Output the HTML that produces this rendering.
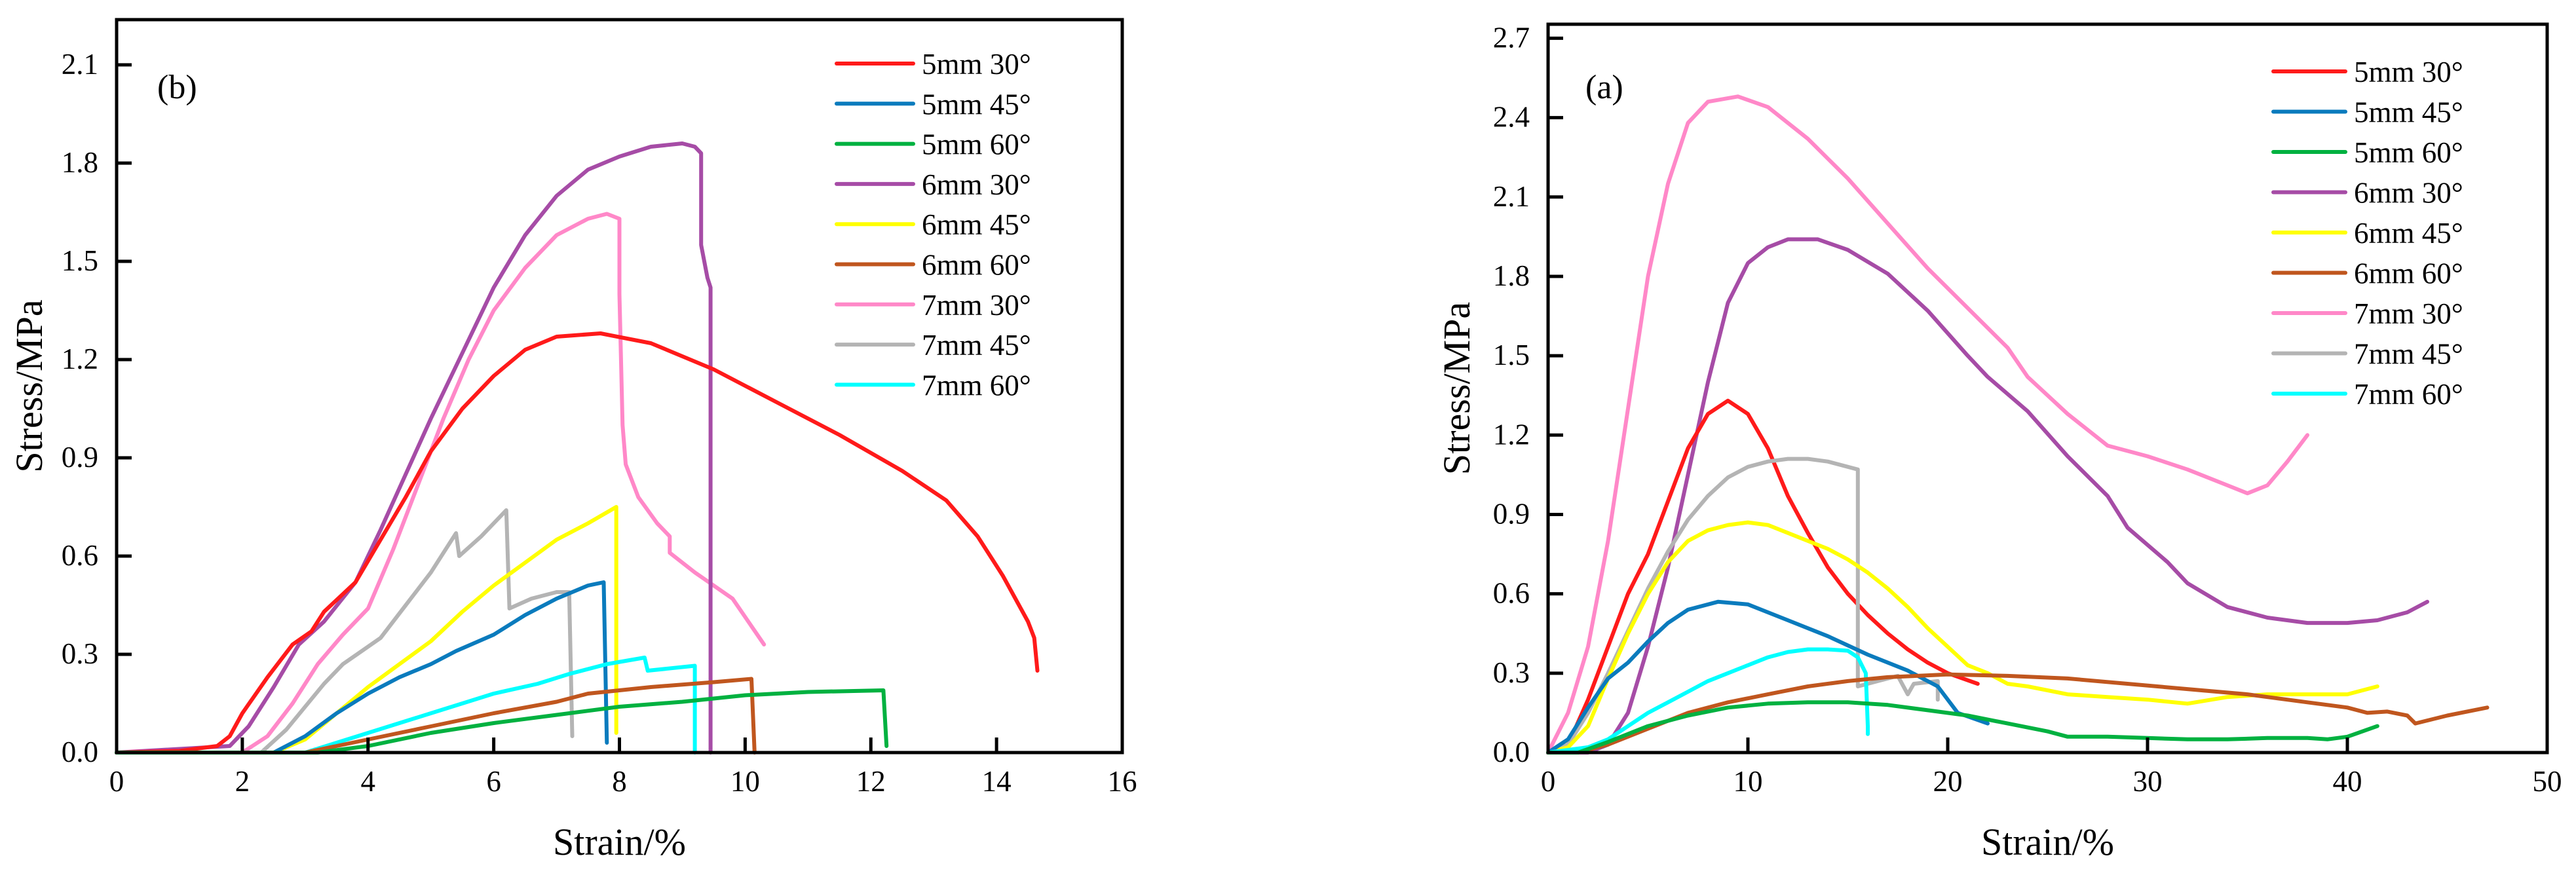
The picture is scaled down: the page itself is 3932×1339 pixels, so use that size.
<!DOCTYPE html>
<html><head><meta charset="utf-8"><title>Stress-strain curves</title>
<style>
html,body{margin:0;padding:0;background:#fff;}
svg{display:block;font-family:"Liberation Serif","DejaVu Serif",serif;}
</style></head>
<body>
<svg id="fig" width="3932" height="1339" viewBox="0 0 3932 1339" xmlns="http://www.w3.org/2000/svg"></svg>
<script>
// ---------- data: chart (b) ----------
const bXTicks = [0,2,4,6,8,10,12,14,16];
const bYTicks = ["0.0","0.3","0.6","0.9","1.2","1.5","1.8","2.1"];
const b5mm30 = [[0,0],[1,0.005],[1.6,0.02],[1.8,0.05],[2.0,0.12],[2.4,0.23],[2.8,0.33],[3.1,0.37],[3.3,0.43],[3.8,0.52],[4.2,0.65],[4.6,0.78],[5,0.92],[5.5,1.05],[6,1.15],[6.5,1.23],[7,1.27],[7.7,1.28],[8.5,1.25],[9.5,1.17],[10.5,1.07],[11.5,0.97],[12.5,0.86],[13.2,0.77],[13.7,0.66],[14.1,0.54],[14.5,0.40],[14.6,0.35],[14.65,0.25]];
const b5mm45 = [[0,0],[2.5,0.0],[3.0,0.05],[3.5,0.12],[4,0.18],[4.5,0.23],[5,0.27],[5.4,0.31],[6,0.36],[6.5,0.42],[7,0.47],[7.5,0.51],[7.75,0.52],[7.8,0.03]];
const b5mm60 = [[0,0],[3.2,0],[4,0.02],[5,0.06],[6,0.09],[7,0.115],[8,0.14],[9,0.155],[10,0.175],[11,0.185],[12.2,0.19],[12.25,0.02]];
const b6mm30 = [[0,0],[1.8,0.02],[2.1,0.08],[2.5,0.2],[2.9,0.33],[3.3,0.4],[3.8,0.52],[4.2,0.68],[4.6,0.85],[5,1.02],[5.5,1.22],[6,1.42],[6.5,1.58],[7,1.70],[7.5,1.78],[8,1.82],[8.5,1.85],[9,1.86],[9.2,1.85],[9.3,1.83],[9.3,1.55],[9.4,1.45],[9.45,1.42],[9.45,0.0]];
const b6mm45 = [[0,0],[2.5,0.0],[3.0,0.04],[3.5,0.12],[4.0,0.20],[4.5,0.27],[5,0.34],[5.5,0.43],[6,0.51],[6.5,0.58],[7,0.65],[7.5,0.70],[7.95,0.75],[7.95,0.06]];
const b6mm60 = [[0,0],[3,0],[3.5,0.02],[4,0.04],[5,0.08],[6,0.12],[7,0.155],[7.5,0.18],[8.5,0.2],[9.5,0.215],[10.1,0.225],[10.15,0.0]];
const b7mm30 = [[0,0],[2.0,0.0],[2.4,0.05],[2.8,0.15],[3.2,0.27],[3.6,0.36],[4.0,0.44],[4.4,0.62],[4.8,0.82],[5.2,1.02],[5.6,1.2],[6,1.35],[6.5,1.48],[7,1.58],[7.5,1.63],[7.8,1.645],[8.0,1.63],[8.0,1.4],[8.05,1.0],[8.1,0.88],[8.3,0.78],[8.6,0.70],[8.8,0.66],[8.8,0.61],[9.2,0.55],[9.8,0.47],[10.3,0.33]];
const b7mm45 = [[0,0],[2.3,0],[2.7,0.07],[3.0,0.14],[3.3,0.21],[3.6,0.27],[3.9,0.31],[4.2,0.35],[4.6,0.45],[5.0,0.55],[5.4,0.67],[5.45,0.6],[5.8,0.66],[6.2,0.74],[6.25,0.44],[6.6,0.47],[7.0,0.49],[7.2,0.49],[7.25,0.05]];
const b7mm60 = [[0,0],[3,0.0],[3.5,0.03],[4,0.06],[4.5,0.09],[5,0.12],[5.5,0.15],[6,0.18],[6.7,0.21],[7.2,0.24],[7.8,0.27],[8.4,0.29],[8.45,0.25],[9.2,0.265],[9.2,0.0]];
// ---------- data: chart (a) ----------
const aXTicks = [0,10,20,30,40,50];
const aYTicks = ["0.0","0.3","0.6","0.9","1.2","1.5","1.8","2.1","2.4","2.7"];
const a5mm30 = [[0,0],[1,0.03],[2,0.2],[3,0.4],[4,0.6],[5,0.75],[6,0.95],[7,1.15],[8,1.28],[9,1.33],[10,1.28],[11,1.15],[12,0.97],[13,0.83],[14,0.7],[15,0.6],[16,0.52],[17,0.45],[18,0.39],[19,0.34],[20,0.3],[21.5,0.26]];
const a5mm45 = [[0,0],[1,0.05],[2,0.17],[3,0.28],[4,0.34],[5,0.42],[6,0.49],[7,0.54],[8.5,0.57],[10,0.56],[12,0.5],[14,0.44],[16,0.37],[18,0.31],[19.5,0.25],[20.5,0.15],[22,0.11]];
const a5mm60 = [[0,0],[1.5,0],[3,0.04],[5,0.1],[7,0.14],[9,0.17],[11,0.185],[13,0.19],[15,0.19],[17,0.18],[19,0.16],[21,0.14],[23,0.11],[25,0.08],[26,0.06],[28,0.06],[30,0.055],[32,0.05],[34,0.05],[36,0.055],[38,0.055],[39,0.05],[40,0.06],[41.5,0.1]];
const a6mm30 = [[0,0],[2,0.0],[3,0.03],[4,0.15],[5,0.4],[6,0.7],[7,1.05],[8,1.4],[9,1.7],[10,1.85],[11,1.91],[12,1.94],[13.5,1.94],[15,1.9],[17,1.81],[19,1.67],[21,1.5],[22,1.42],[24,1.29],[26,1.12],[28,0.97],[29,0.85],[31,0.72],[32,0.64],[34,0.55],[36,0.51],[38,0.49],[40,0.49],[41.5,0.5],[43,0.53],[44,0.57]];
const a6mm45 = [[0,0],[1,0.02],[2,0.1],[3,0.28],[4,0.45],[5,0.6],[6,0.72],[7,0.8],[8,0.84],[9,0.86],[10,0.87],[11,0.86],[12,0.83],[13,0.8],[14,0.77],[15,0.73],[16,0.68],[17,0.62],[18,0.55],[19,0.47],[20,0.4],[21,0.33],[22,0.3],[23,0.26],[24,0.25],[26,0.22],[28,0.21],[30,0.2],[32,0.185],[34,0.21],[36,0.22],[38,0.22],[40,0.22],[41.5,0.25]];
const a6mm60 = [[0,0],[1.5,0.0],[3,0.03],[5,0.09],[7,0.15],[9,0.19],[11,0.22],[13,0.25],[15,0.27],[17,0.285],[20,0.295],[23,0.29],[26,0.28],[29,0.26],[32,0.24],[35,0.22],[38,0.19],[40,0.17],[41,0.15],[42,0.155],[43,0.14],[43.4,0.11],[45,0.14],[47,0.17]];
const a7mm30 = [[0,0],[1,0.15],[2,0.4],[3,0.8],[4,1.3],[5,1.8],[6,2.15],[7,2.38],[8,2.46],[9.5,2.48],[11,2.44],[13,2.32],[15,2.17],[17,2.0],[19,1.83],[21,1.68],[23,1.53],[24,1.42],[26,1.28],[28,1.16],[30,1.12],[32,1.07],[34,1.01],[35,0.98],[36,1.01],[37,1.1],[38,1.2]];
const a7mm45 = [[0,0],[1,0.03],[2,0.15],[3,0.3],[4,0.46],[5,0.62],[6,0.76],[7,0.88],[8,0.97],[9,1.04],[10,1.08],[11,1.1],[12,1.11],[13,1.11],[14,1.1],[15.5,1.07],[15.5,0.25],[16.5,0.27],[17.5,0.29],[18,0.22],[18.3,0.26],[19.5,0.27],[19.5,0.2]];
const a7mm60 = [[0,0],[1,0.01],[2,0.02],[3,0.05],[4,0.1],[5,0.15],[6,0.19],[7,0.23],[8,0.27],[9,0.3],[10,0.33],[11,0.36],[12,0.38],[13,0.39],[14,0.39],[15,0.385],[15.5,0.36],[15.9,0.3],[16,0.1],[16,0.07]];

const seriesNames = ["5mm 30°","5mm 45°","5mm 60°","6mm 30°","6mm 45°","6mm 60°","7mm 30°","7mm 45°","7mm 60°"];
const seriesColors = ["#ff1a1a","#0a7bbd","#00b140","#a64ca6","#ffff00","#c0561e","#ff88c8","#b4b4b4","#00ffff"];
const seriesKeys = ["5mm30","5mm45","5mm60","6mm30","6mm45","6mm60","7mm30","7mm45","7mm60"];
const bSeries = [b5mm30,b5mm45,b5mm60,b6mm30,b6mm45,b6mm60,b7mm30,b7mm45,b7mm60];
const aSeries = [a5mm30,a5mm45,a5mm60,a6mm30,a6mm45,a6mm60,a7mm30,a7mm45,a7mm60];

const NS = "http://www.w3.org/2000/svg";
const svg = document.getElementById("fig");
function mk(tag, attrs, parent){
  const e = document.createElementNS(NS, tag);
  for (const k in attrs) e.setAttribute(k, attrs[k]);
  (parent||svg).appendChild(e);
  return e;
}

function drawChart(cfg){
  const g = mk("g", {});
  
  
  const sx = v => cfg.x0 + (v - cfg.xmin) / (cfg.xmax - cfg.xmin) * (cfg.x1 - cfg.x0);
  const sy = v => cfg.y0 - (v - cfg.ymin) / (cfg.ymax - cfg.ymin) * (cfg.y0 - cfg.y1);
  // series
  const sg = mk("g", {}, g);
  
  
  const order = [6,3,0,7,4,1,8,5,2];
  order.forEach(i => {
    const pts = cfg.series[i].map(p => sx(p[0]).toFixed(1) + "," + sy(p[1]).toFixed(1)).join(" ");
    const pl = mk("polyline", {points: pts, fill: "none", stroke: seriesColors[i], "stroke-width": 6, "stroke-linejoin": "round", "stroke-linecap": "round"}, sg);
    
    
  });
  // frame
  const fr = mk("rect", {x: cfg.x0, y: cfg.y1, width: cfg.x1 - cfg.x0, height: cfg.y0 - cfg.y1, fill: "none", stroke: "#000", "stroke-width": 5}, g);
  
  
  // x ticks
  cfg.xTicks.forEach(v => {
    const x = sx(v);
    const t = mk("line", {x1: x, x2: x, y1: cfg.y0, y2: cfg.y0 - 23, stroke: "#000", "stroke-width": 5}, g);
    
    
    const tl = mk("text", {x: x, y: 1208, "font-size": 45, "text-anchor": "middle"}, g);
    tl.textContent = v;
    
    
  });
  cfg.yTicks.forEach(s => {
    const y = sy(parseFloat(s));
    const t = mk("line", {x1: cfg.x0, x2: cfg.x0 + 23, y1: y, y2: y, stroke: "#000", "stroke-width": 5}, g);
    
    
    const tl = mk("text", {x: cfg.x0 - 28, y: y + 14, "font-size": 45, "text-anchor": "end"}, g);
    tl.textContent = s;
    
    
  });
  const xt = mk("text", {x: (cfg.x0 + cfg.x1) / 2, y: 1305, "font-size": 58, "text-anchor": "middle"}, g);
  xt.textContent = "Strain/%";
  
  
  const yt = mk("text", {x: 0, y: 0, "font-size": 58, "text-anchor": "middle", transform: "translate(" + cfg.ytx + "," + ((cfg.y0 + cfg.y1) / 2) + ") rotate(-90)"}, g);
  yt.textContent = "Stress/MPa";
  
  
  const pl = mk("text", {x: cfg.px, y: cfg.py, "font-size": 52}, g);
  pl.textContent = cfg.panel;
  
  
  // legend
  const lg = mk("g", {}, g);
  
  
  seriesNames.forEach((n, i) => {
    const y = cfg.ly + i * cfg.ldy;
    const eg = mk("g", {}, lg);
    
    
    mk("line", {x1: cfg.lx, x2: cfg.lx + cfg.llen, y1: y, y2: y, stroke: seriesColors[i], "stroke-width": 6, "stroke-linecap": "round"}, eg);
    const t = mk("text", {x: cfg.lx + cfg.llen + 13, y: y + 16, "font-size": 45}, eg);
    t.textContent = n;
  });
}

drawChart({id: "b", panel: "(b)", x0: 178, x1: 1713, y0: 1149, y1: 30, xmin: 0, xmax: 16, ymin: 0, ymax: 2.238,
  xTicks: bXTicks, yTicks: bYTicks, series: bSeries, ytx: 64, px: 240, py: 150,
  lx: 1277, llen: 117, ly: 97, ldy: 61.3});
drawChart({id: "a", panel: "(a)", x0: 2363, x1: 3888, y0: 1149, y1: 37, xmin: 0, xmax: 50, ymin: 0, ymax: 2.753,
  xTicks: aXTicks, yTicks: aYTicks, series: aSeries, ytx: 2243, px: 2420, py: 150,
  lx: 3470, llen: 110, ly: 109, ldy: 61.5});
</script>
</body></html>
